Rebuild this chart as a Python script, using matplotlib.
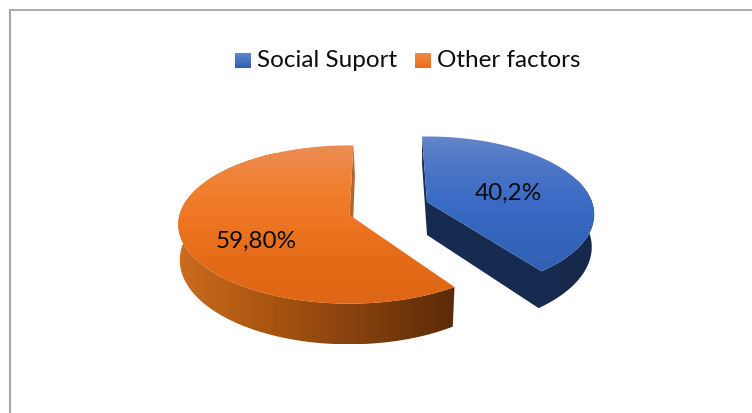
"""
Share of social support vs other factors, tilted 3D style pie
"""
import numpy as np
import matplotlib
matplotlib.use('Agg')
import matplotlib.pyplot as plt
from matplotlib.colors import LinearSegmentedColormap
from matplotlib.patches import Polygon

plt.rcParams['font.family'] = ['Lato', 'DejaVu Sans']

categories = ['Social Suport', 'Other factors']
shares = [40.2, 59.8]
share_labels = ['40,2%', '59,80%']


def project(theta, c):
    # perspective view of the unit disk, theta in degrees
    u = np.cos(np.radians(theta))
    v = np.sin(np.radians(theta))
    d = 1 + c['k']*v
    return c['x0'] + c['b']*u/d, c['y0'] - c['a']*v/d


def arc(t1, t2, c):
    th = np.linspace(t1, t2, 200)
    x, y = project(th, c)
    return np.column_stack([x, y])


def grad_fill(ax, pts, colors, vertical=True, zorder=2):
    cmap = LinearSegmentedColormap.from_list('g', colors)
    g = np.linspace(0, 1, 256)
    g = g.reshape(-1, 1) if vertical else g.reshape(1, -1)
    x0, y0 = pts.min(axis=0)
    x1, y1 = pts.max(axis=0)
    im = ax.imshow(g, cmap=cmap, extent=[x0, x1, y1, y0], aspect='auto', zorder=zorder, interpolation='bilinear')
    p = Polygon(pts, closed=True, fc='none', ec='none', transform=ax.transData)
    ax.add_patch(p)
    im.set_clip_path(p)


fig = plt.figure(figsize=(7.52, 4.14), dpi=100)
ax = fig.add_axes([0, 0, 1, 1])

# frame on the top and left only
ax.plot([9.5, 752], [10.5, 10.5], color='#959595', lw=1.1, zorder=1)
ax.plot([9.5, 9.5], [10.5, 414], color='#a6a6a6', lw=1.5, zorder=1)

# slice angles follow the shares
sweep_blue = shares[0]/sum(shares)*360
sweep_orange = shares[1]/sum(shares)*360
blue_start = 92.0
orange_start = 88.5

blue_top = dict(x0=427, y0=203, a=76, b=165, k=0.16)
blue_low = dict(x0=427, y0=236, a=81.3, b=163, k=0.145)
orange_top = dict(x0=349.5, y0=216, a=78, b=170, k=0.12)
orange_low = dict(x0=349, y0=251, a=83, b=168, k=0.12)

# orange slice, walls first then the top face
t1, t2 = orange_start, orange_start + sweep_orange
corner_t = arc(t1, t1, orange_top)[0]
corner_l = arc(t1, t1, orange_low)[0] + [2, 0]
apex_t = [orange_top['x0'], orange_top['y0']]
apex_l = [orange_low['x0'] + 3, orange_low['y0']]
ax.add_patch(Polygon([corner_t, apex_t, apex_l, corner_l], closed=True, fc='#b5652b', ec='none', zorder=2))
wall = np.vstack([arc(t1 + 30, t2, orange_top), arc(t1 + 30, t2, orange_low)[::-1]])
grad_fill(ax, wall, ['#cb6c20', '#a9540f', '#84400f', '#5a2a08'], vertical=False, zorder=3)
face = np.vstack([[apex_t], arc(t1, t2, orange_top)])
grad_fill(ax, face, ['#ec8c55', '#f08030', '#ed7522', '#e36b18', '#de6614'], zorder=4)

# blue slice, the walls are one dark shape under the face
t1, t2 = blue_start - sweep_blue, blue_start
apex_t = [blue_top['x0'], blue_top['y0']]
apex_l = [blue_low['x0'], blue_low['y0']]
corner_t = arc(t2, t2, blue_top)[0]
corner_l = arc(t2, t2, blue_low)[0]
ax.add_patch(Polygon([corner_t, apex_t, apex_l, corner_l], closed=True, fc='#1b3056', ec='none', zorder=2))
wall = np.vstack([[apex_l], arc(t1, t1 + 70, blue_low), arc(t1, t1 + 70, blue_top)[::-1], [apex_t]])
grad_fill(ax, wall, ['#182c52', '#16294d'], vertical=False, zorder=3)
face = np.vstack([[apex_t], arc(t1, t2, blue_top)])
grad_fill(ax, face, ['#6485c8', '#4a75c6', '#3a6bc4', '#3365ba', '#3161b4'], zorder=4)

# value labels
ax.text(508, 193.5, share_labels[0], fontsize=17.5, color='#0a0a0a', ha='center', va='center', zorder=6)
ax.text(256, 241.5, share_labels[1], fontsize=17.5, color='#0a0a0a', ha='center', va='center', zorder=6)

# legend drawn by hand for the gradient swatches
swatches = [(['#5f86cf', '#2f5fb3'], 235), (['#f48a3c', '#e86d1a'], 415)]
for name, (cols, xs) in zip(categories, swatches):
    box = np.array([[xs, 54], [xs + 16, 54], [xs + 16, 69], [xs, 69]])
    grad_fill(ax, box, cols, zorder=5)
    ax.text(xs + 22, 60.5, name, fontsize=17.5, color='#0d0d0d', ha='left', va='center', zorder=6)

ax.set_xlim(0, 752)
ax.set_ylim(414, 0)
ax.axis('off')
fig.savefig('out.png', dpi=100)
